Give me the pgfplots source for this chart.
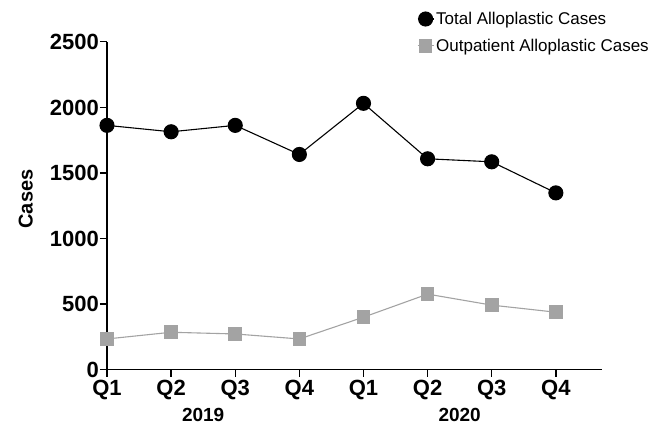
\documentclass[border=0pt]{standalone}
\usepackage{fontspec}
\setmainfont{Liberation Sans}
\usepackage{pgfplots}
\pgfplotsset{compat=1.18}
\definecolor{outgray}{RGB}{163,163,163}
\begin{document}
\begin{tikzpicture}
\useasboundingbox (-107pt,-56.5pt) rectangle (560pt,369.5pt);
\begin{axis}[
  at={(0pt,0pt)}, anchor=south west,
  scale only axis, width=495pt, height=327.8pt,
  axis lines=left, axis line style={-, line width=1.6pt},
  xmin=0, xmax=7.72, ymin=0, ymax=2500,
  xtick={0,...,7}, xticklabels={Q1,Q2,Q3,Q4,Q1,Q2,Q3,Q4},
  ytick={0,500,1000,1500,2000,2500},
  tick style={black, line width=1.4pt},
  major tick length=7pt, tick align=outside,
  /pgf/number format/assume math mode=true,
  /pgf/number format/1000 sep={},
  ticklabel style={font=\fontsize{22}{24}\selectfont\bfseries},
  yticklabel style={inner xsep=1pt, inner ysep=0pt, text height=15.8pt, text depth=0pt},
  xticklabel style={inner ysep=2pt, yshift=-1.5pt},
  ylabel={Cases},
  ylabel style={font=\fontsize{20}{22}\selectfont\bfseries, at={(axis description cs:-0.164,0.52)}, anchor=center},
  clip=false,
  legend style={draw=none, fill=none, at={(axis description cs:0.626,1.097)}, anchor=north west,
    font=\fontsize{17}{20}\selectfont, row sep=9pt, inner sep=0pt},
  legend cell align=left,
  legend image code/.code={\draw[mark repeat=2,mark phase=2,#1] plot coordinates {(0pt,0pt)(8pt,0pt)(16pt,0pt)};},
]
\addplot[black, line width=1.1pt, mark=*, mark size=7pt, mark options={solid, fill=black}]
coordinates {(0,1862) (1,1813) (2,1862) (3,1640) (4,2030) (5,1607) (6,1584) (7,1347)};
\addlegendentry{Total Alloplastic Cases}
\addplot[outgray, line width=1.1pt, mark=square*, mark size=6.3pt, mark options={solid, fill=outgray, draw=outgray}]
coordinates {(0,233) (1,284) (2,271) (3,233) (4,399) (5,575) (6,491) (7,437)};
\addlegendentry{Outpatient Alloplastic Cases}
\node[font=\fontsize{19}{21}\selectfont\bfseries, anchor=center] at (axis cs:1.5,0) [yshift=-45.5pt] {2019};
\node[font=\fontsize{19}{21}\selectfont\bfseries, anchor=center] at (axis cs:5.5,0) [yshift=-45.5pt] {2020};
\end{axis}
\end{tikzpicture}
\end{document}
